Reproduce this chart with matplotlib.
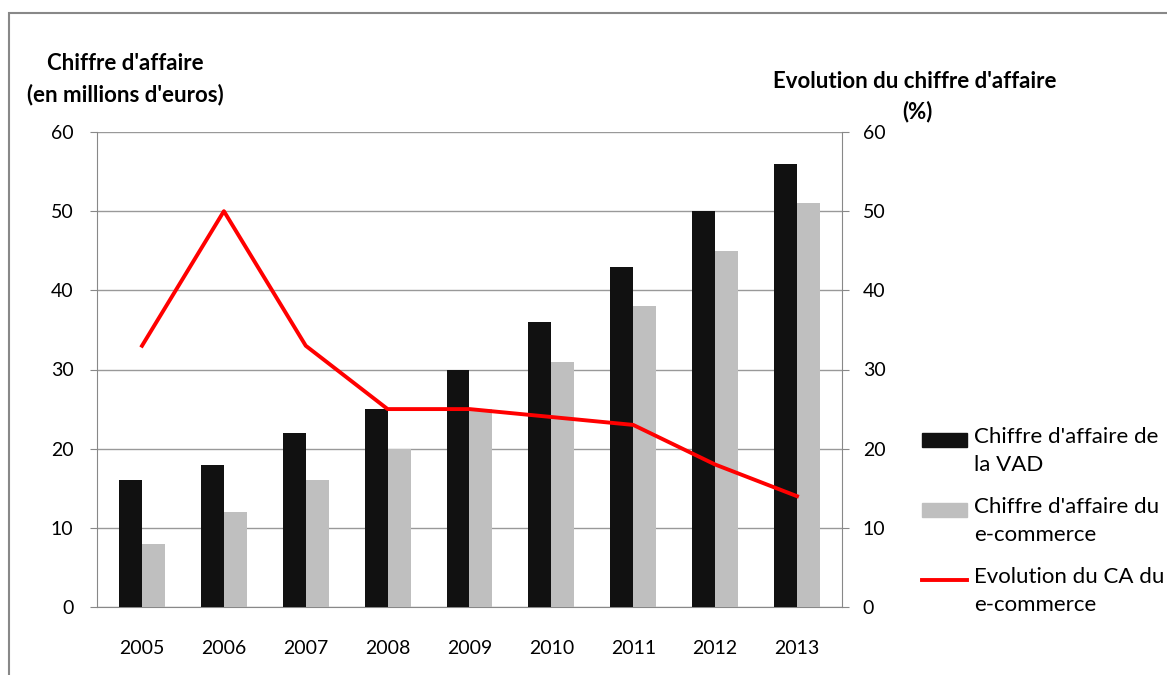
import matplotlib.pyplot as plt
import matplotlib.patches as mpatches
from matplotlib.lines import Line2D
import numpy as np

plt.rcParams['font.family'] = ['Lato', 'DejaVu Sans']

years = ["2005", "2006", "2007", "2008", "2009", "2010", "2011", "2012", "2013"]
ca_vad = [16, 18, 22, 25, 30, 36, 43, 50, 56]
ca_ecommerce = [8, 12, 16, 20, 25, 31, 38, 45, 51]
evolution_ecommerce = [33, 50, 33, 25, 25, 24, 23, 18, 14]

legend_labels = ["Chiffre d'affaire de\nla VAD",
                 "Chiffre d'affaire du\ne-commerce",
                 "Evolution du CA du\ne-commerce"]

W, H = 1167, 675
fig = plt.figure(figsize=(W / 100, H / 100), dpi=100)

# outer chart frame (gray, runs off right and bottom)
fig.patches.append(mpatches.Rectangle((9 / W, -0.1), 1.2, 1 - 13 / H + 0.1,
                                      transform=fig.transFigure, fill=False,
                                      edgecolor='#888888', linewidth=1.5))

ax = fig.add_axes([97 / W, 1 - 607 / H, (842 - 97) / W, (607 - 132) / H])
x = np.arange(len(years))
bw = 0.28
ax.bar(x - bw / 2, ca_vad, bw, color='#111111', zorder=3)
ax.bar(x + bw / 2, ca_ecommerce, bw, color='#bfbfbf', zorder=3)

ax.set_xlim(-0.55, len(years) - 0.45)
ax.set_ylim(0, 60)
ax.set_yticks(range(0, 61, 10))
ax.grid(axis='y', color='#999999', linewidth=1, zorder=0)
ax.set_xticks(x)
ax.set_xticklabels(years)
ax.tick_params(axis='x', length=0, pad=24, labelsize=14)
ax.tick_params(axis='y', length=5, color='#888888', pad=12, labelsize=14)
for s in ['top', 'right']:
    ax.spines[s].set_visible(False)
for s in ['left', 'bottom']:
    ax.spines[s].set_color('#888888')

ax2 = ax.twinx()
ax2.plot(x, evolution_ecommerce, color='#ff0000', linewidth=2.8, zorder=4)
ax2.set_ylim(0, 60)
ax2.set_yticks(range(0, 61, 10))
ax2.tick_params(axis='y', length=5, color='#888888', pad=10, labelsize=14)
for s in ['top', 'left', 'bottom']:
    ax2.spines[s].set_visible(False)
ax2.spines['right'].set_color('#888888')

fig.text(125 / W, 1 - 63 / H, "Chiffre d'affaire", ha='center', va='center',
         fontsize=16, fontweight='bold')
fig.text(125 / W, 1 - 95 / H, "(en millions d'euros)", ha='center', va='center',
         fontsize=16, fontweight='bold')
fig.text(915 / W, 1 - 82 / H, "Evolution du chiffre d'affaire", ha='center',
         va='center', fontsize=16, fontweight='bold')
fig.text(917 / W, 1 - 112 / H, "(%)", ha='center', va='center',
         fontsize=16, fontweight='bold')

# legend, drawn by hand so each key sits on the first line of its label
key_y = [440, 510, 580]
fig.patches.append(mpatches.Rectangle((922 / W, 1 - 447 / H), 45 / W, 14 / H,
                                      transform=fig.transFigure, color='#111111'))
fig.patches.append(mpatches.Rectangle((922 / W, 1 - 517 / H), 45 / W, 14 / H,
                                      transform=fig.transFigure, color='#bfbfbf'))
fig.lines.append(Line2D([922 / W, 967 / W], [1 - 580 / H, 1 - 580 / H],
                        transform=fig.transFigure, color='#ff0000', linewidth=2.8))
for yy, lab in zip(key_y, legend_labels):
    fig.text(974 / W, 1 - (yy - 13) / H, lab, ha='left', va='top',
             fontsize=16, linespacing=1.5)

fig.savefig("out.png", dpi=100)
